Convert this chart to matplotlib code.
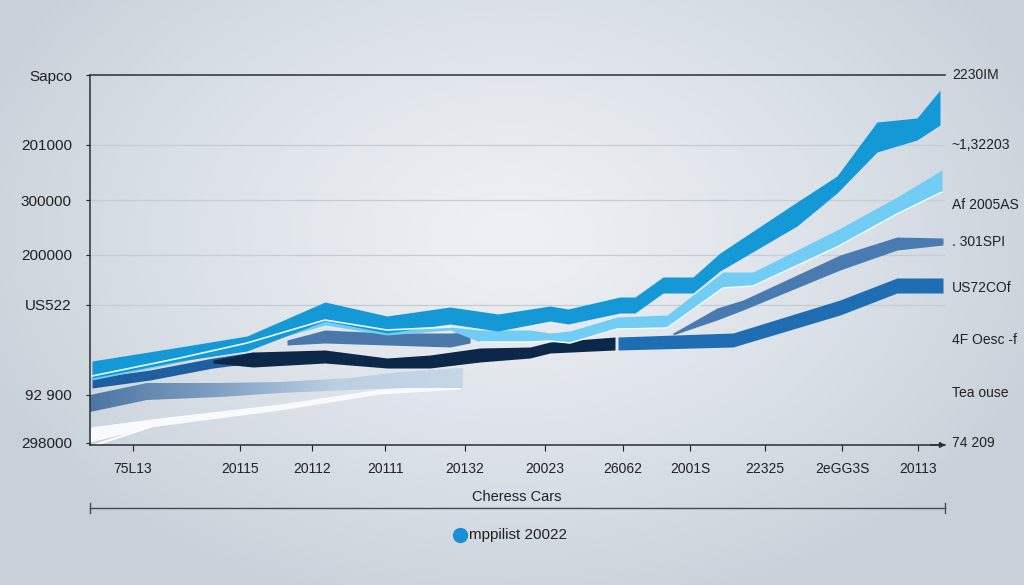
import numpy as np
import matplotlib.pyplot as plt
from matplotlib.lines import Line2D
from matplotlib.colors import LinearSegmentedColormap

plt.rcParams['font.family'] = ['Liberation Sans', 'DejaVu Sans']

# bright blue band (top)
top_x = [2, 90, 157, 235, 297, 360, 408, 460, 478, 530, 545, 573, 603, 630, 707, 747, 787, 827, 850]
top_hi = [84, 98, 109, 143, 129, 138, 131, 139, 136, 148, 148, 168, 168, 192, 243, 269, 323, 327, 355]
top_lo = [67, 84, 94, 124, 112, 121, 114, 124, 121, 132, 132, 152, 152, 174, 219, 252, 293, 305, 320]

# light blue band
lb_x = [2, 90, 157, 235, 297, 360, 390, 440, 460, 480, 527, 577, 633, 663, 747, 807, 852]
lb_hi = [69, 87, 102, 125, 115, 118, 115, 115, 112, 114, 128, 130, 173, 173, 215, 248, 275]
lb_lo = [65, 83, 98, 120, 110, 115, 103, 103, 104, 102, 116, 117, 157, 159, 198, 231, 253]

# steel blue bands (two pieces)
sa_x = [197, 235, 297, 360, 380]
sa_hi = [105, 115, 112, 112, 113]
sa_lo = [100, 102, 100, 98, 102]
sb_x = [583, 627, 653, 750, 807, 853]
sb_hi = [112, 137, 145, 190, 208, 207]
sb_lo = [110, 125, 135, 175, 195, 200]

# left medium blue -> navy -> medium blue
ml_x = [2, 60, 123, 163]
ml_hi = [67, 75, 87, 93]
ml_lo = [57, 65, 77, 82]
nv_x = [123, 163, 235, 297, 340, 390, 440, 460, 525]
nv_hi = [85, 93, 95, 87, 90, 97, 98, 103, 108]
nv_lo = [82, 78, 82, 77, 77, 83, 87, 92, 95]
mr_x = [528, 643, 750, 807, 853]
mr_hi = [108, 112, 145, 167, 167]
mr_lo = [95, 98, 130, 152, 152]

# grey-blue fading band and white band (lower left)
gb_x = [0, 57, 130, 190, 260, 310, 373]
gb_hi = [50, 62, 62, 63, 67, 73, 77]
gb_lo = [33, 45, 48, 52, 55, 57, 57]
wh_x = [0, 60, 190, 290, 370]
wh_hi = [18, 26, 41, 56, 60]
wh_lo = [3, 18, 35, 51, 56]

left_ticks = [370, 300, 245, 190, 140, 50, 2]
left_labels = ['Sapco', '201000', '300000', '200000', 'US522', '92 900', '298000']
right_ticks = [370, 300, 240, 203, 157, 105, 52, 2]
right_labels = ['2230IM', '~1,32203', 'Af 2005AS', '. 301SPI', 'US72COf', '4F Oesc -f', 'Tea ouse', '74 209']
grid_vals = [300, 245, 190, 140]
x_ticks = [43, 150, 222, 295, 375, 455, 533, 600, 675, 752, 828]
x_labels = ['75L13', '20115', '20112', '20111', '20132', '20023', '26062', '2001S', '22325', '2eGG3S', '20113']

fig = plt.figure(figsize=(10.24, 5.85), dpi=100)

# background gradient
bg = fig.add_axes([0, 0, 1, 1])
bg.axis('off')
yy, xx = np.mgrid[0:1:300j, 0:1:500j]
r = np.sqrt(((xx - 0.5) / 0.75) ** 2 + ((yy - 0.4) / 0.9) ** 2)
t = np.clip(r / 0.75, 0, 1)[..., None] ** 1.3
c0 = np.array([237, 240, 244]) / 255
c1 = np.array([200, 209, 218]) / 255
bg.imshow(c0 * (1 - t) + c1 * t, aspect='auto', extent=[0, 1, 0, 1])

ax = fig.add_axes([90 / 1024, 1 - 445 / 585, 855 / 1024, 370 / 585])
ax.set_facecolor('none')
ax.set_xlim(0, 855)
ax.set_ylim(0, 370)

for g in grid_vals:
    ax.axhline(g, color='#c4ccd5', lw=0.9, zorder=0)

# white band
ax.fill_between(wh_x, wh_lo, wh_hi, color='#f8fafc', lw=0, zorder=1)
ax.plot([5, 60], [0, 18], color='#ffffff', lw=1.5, zorder=1)

# grey band with gradient fill
poly = ax.fill_between(gb_x, gb_lo, gb_hi, facecolor='none', lw=0)
cmap = LinearSegmentedColormap.from_list('gb', ['#4c77a5', '#7f9fc2', '#bcd0e3', '#c6d7e7'])
grad = np.linspace(0, 1, 200)[None, :]
im = ax.imshow(grad, extent=[0, 373, 0, 370], aspect='auto', cmap=cmap, zorder=1.5)
im.set_clip_path(poly.get_paths()[0], transform=ax.transData)

ax.fill_between(ml_x, ml_lo, ml_hi, color='#1f5f9f', lw=0, zorder=2)
ax.fill_between(nv_x, nv_lo, nv_hi, color='#0d2749', lw=0, zorder=2)
ax.fill_between(mr_x, mr_lo, mr_hi, color='#1f6db2', lw=0, zorder=2)
ax.fill_between(sa_x, sa_lo, sa_hi, color='#4a78aa', lw=0, zorder=2)
ax.fill_between(sb_x, sb_lo, sb_hi, color='#4a7bb0', lw=0, zorder=2)
ax.fill_between(lb_x, lb_lo, lb_hi, color='#72cdf4', lw=0, zorder=3)
ax.plot(lb_x[6:], lb_lo[6:], color='#ffffff', lw=1.0, zorder=3)
ax.fill_between(top_x, top_lo, top_hi, color='#1598d6', lw=0, zorder=4)
ax.plot(lb_x[:6], lb_hi[:6], color='#e8f6fc', lw=1.2, zorder=5)

# axes styling
ax.spines['right'].set_visible(False)
for s in ['left', 'top', 'bottom']:
    ax.spines[s].set_color('#2b2f36')
    ax.spines[s].set_linewidth(1.1)
ax.annotate('', xy=(1.004, 0), xytext=(0.98, 0), xycoords='axes fraction',
            arrowprops=dict(arrowstyle='-|>', color='#2b2f36', lw=1.1, mutation_scale=8))

ax.set_yticks(left_ticks, left_labels)
ax.set_xticks(x_ticks, x_labels)
ax.tick_params(axis='y', length=3, pad=10, labelsize=11, colors='#222222')
ax.tick_params(axis='x', length=4, pad=8, labelsize=10, colors='#222222')
for lab in ax.get_yticklabels() + ax.get_xticklabels():
    lab.set_color('#222222')

tr = ax.get_yaxis_transform()
for v, lab in zip(right_ticks, right_labels):
    ax.text(1.008, v, lab, transform=tr, ha='left', va='center', fontsize=10, color='#222222')

# bottom caption, rule and legend
fig.text(517 / 1024, 1 - 497 / 585, 'Cheress Cars', ha='center', va='center', fontsize=10.5, color='#222222')
fig.add_artist(Line2D([90 / 1024, 945 / 1024], [1 - 508 / 585, 1 - 508 / 585], color='#444a52', lw=1.0))
fig.add_artist(Line2D([90 / 1024, 90 / 1024], [1 - 503 / 585, 1 - 513 / 585], color='#444a52', lw=1.0))
fig.add_artist(Line2D([945 / 1024, 945 / 1024], [1 - 503 / 585, 1 - 513 / 585], color='#444a52', lw=1.0))
fig.add_artist(Line2D([460 / 1024], [1 - 535 / 585], marker='o', markersize=10, color='#1a8fd6', lw=0))
fig.text(469 / 1024, 1 - 535 / 585, 'mppilist 20022', ha='left', va='center', fontsize=11, color='#222222')

fig.savefig('out.png', dpi=100)
